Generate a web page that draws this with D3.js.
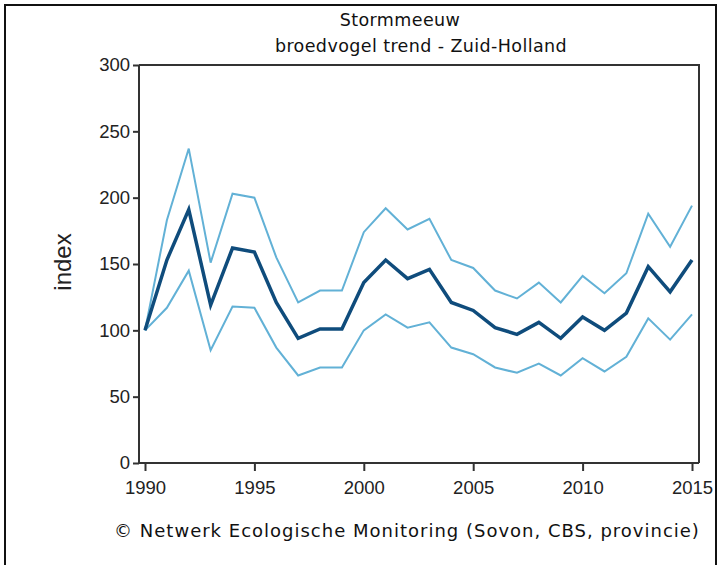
<!DOCTYPE html>
<html>
<head>
    <meta charset="utf-8">
    <script src="https://d3js.org/d3.v7.min.js" charset="utf-8"></script>
    <style>
        body { margin: 0; background: #fff; }
        .axis text { font-family: "Liberation Sans", Arial, sans-serif; font-size: 18.5px; fill: #222; }
        .axis path, .axis line { stroke: #333; stroke-width: 2; }
    </style>
</head>
<body>
    <div id="chart_container"></div>
    <script>
        // Data
        const years = d3.range(1990, 2016);
        const indexValues = [100, 153, 191, 119, 162, 159, 121, 94, 101, 101, 136, 153, 139, 146, 121, 115, 102, 97, 106, 94, 110, 100, 113, 148, 129, 153];
        const upperValues = [100, 183, 237, 151, 203, 200, 155, 121, 130, 130, 174, 192, 176, 184, 153, 147, 130, 124, 136, 121, 141, 128, 143, 188, 163, 194];
        const lowerValues = [100, 117, 145, 85, 118, 117, 87, 66, 72, 72, 100, 112, 102, 106, 87, 82, 72, 68, 75, 66, 79, 69, 80, 109, 93, 112];
        const xTicks = [1990, 1995, 2000, 2005, 2010, 2015];
        const yTicks = [0, 50, 100, 150, 200, 250, 300];

        var width = 719,
            height = 565;
        var margin = { top: 65, right: 20, bottom: 102, left: 139 };
        var innerW = width - margin.left - margin.right,
            innerH = height - margin.top - margin.bottom;

        const svg = d3.select('#chart_container')
            .append('svg')
            .attr('width', width)
            .attr('height', height);

        // outer border
        svg.append('rect')
            .attr('x', 5).attr('y', 5)
            .attr('width', 711).attr('height', 575)
            .attr('fill', 'none')
            .attr('stroke', '#111')
            .attr('stroke-width', 2);

        const g = svg.append('g')
            .attr('transform', `translate(${margin.left},${margin.top})`);

        var x = d3.scaleLinear().domain([1990, 2015]).range([6, innerW - 7]);
        var y = d3.scaleLinear().domain([0, 300]).range([innerH, 0]);

        // frame top/right
        g.append('path')
            .attr('d', `M0,0H${innerW}V${innerH}`)
            .attr('fill', 'none')
            .attr('stroke', '#333')
            .attr('stroke-width', 2);

        const yAxis = g.append('g')
            .attr('class', 'axis')
            .call(d3.axisLeft(y).tickValues(yTicks).tickSize(6).tickPadding(3).tickSizeOuter(0));
        yAxis.select('.domain').attr('d', `M0,0V${innerH}`);

        const xAxis = g.append('g')
            .attr('class', 'axis')
            .attr('transform', `translate(0,${innerH})`)
            .call(d3.axisBottom(x).tickValues(xTicks).tickFormat(d3.format('d')).tickSize(8).tickPadding(10).tickSizeOuter(0));
        xAxis.select('.domain').attr('d', `M0,0H${innerW}`);

        const line = d3.line()
            .x((d, i) => x(years[i]))
            .y(d => y(d));

        [upperValues, lowerValues].forEach(vals => {
            g.append('path')
                .datum(vals)
                .attr('d', line)
                .attr('fill', 'none')
                .attr('stroke', '#62b1d6')
                .attr('stroke-width', 2);
        });

        g.append('path')
            .datum(indexValues)
            .attr('d', line)
            .attr('fill', 'none')
            .attr('stroke', '#0f4c7c')
            .attr('stroke-width', 3.5);

        // y label
        svg.append('text')
            .attr('transform', 'translate(71,262) rotate(-90)')
            .attr('text-anchor', 'middle')
            .style('font-family', '"Liberation Sans", Arial, sans-serif')
            .style('font-size', '24px')
            .style('fill', '#222')
            .text('index');

        // title
        const title = svg.append('text')
            .attr('text-anchor', 'middle')
            .style('font-family', '"DejaVu Sans", Verdana, sans-serif')
            .style('font-size', '17.5px')
            .style('letter-spacing', '0.4px')
            .style('fill', '#111');
        title.append('tspan').attr('x', 400).attr('y', 26).text('Stormmeeuw');
        title.append('tspan').attr('x', 421).attr('y', 52).text('broedvogel trend - Zuid-Holland');

        // source
        svg.append('text')
            .attr('x', 407).attr('y', 537)
            .attr('text-anchor', 'middle')
            .style('font-family', '"DejaVu Sans", Verdana, sans-serif')
            .style('font-size', '18px')
            .style('letter-spacing', '1px')
            .style('fill', '#111')
            .text('© Netwerk Ecologische Monitoring (Sovon, CBS, provincie)');
    </script>
</body>
</html>
